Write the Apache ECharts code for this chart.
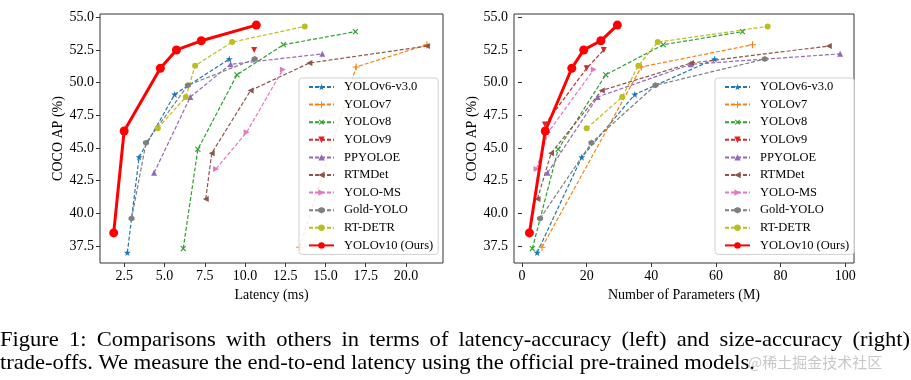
<!DOCTYPE html>
<html><head><meta charset="utf-8">
<script src="https://cdn.jsdelivr.net/npm/echarts@6/dist/echarts.min.js"></script>
<style>html,body{margin:0;padding:0;background:#fff}#c{width:911px;height:380px}</style>
</head><body><div id="c"></div>
<script>
// ---- data: [latency ms, AP] and [params M, AP] ----
const seriesNames = ['YOLOv6-v3.0','YOLOv7','YOLOv8','YOLOv9','PPYOLOE','RTMDet','YOLO-MS','Gold-YOLO','RT-DETR','YOLOv10 (Ours)'];

const yolov6Lat = [[2.69,37.0],[3.42,44.3],[5.63,49.1],[9.02,51.8]];
const yolov6Par = [[4.7,37.0],[18.5,44.3],[34.9,49.1],[59.6,51.8]];
const yolov7Lat = [[13.4,37.4],[16.9,51.2],[21.3,52.9]];
const yolov7Par = [[6.2,37.4],[36.9,51.2],[71.3,52.9]];
const yolov8Lat = [[6.16,37.3],[7.07,44.9],[9.50,50.6],[12.39,52.9],[16.86,53.9]];
const yolov8Par = [[3.2,37.3],[11.2,44.9],[25.9,50.6],[43.7,52.9],[68.2,53.9]];
const yolov9Lat = [[10.57,52.5]];
const yolov9Par = [[7.1,46.8],[20.0,51.1],[25.3,52.5]];
const ppyoloeLat = [[4.35,43.1],[6.6,48.9],[9.1,51.4],[14.8,52.2]];
const ppyoloePar = [[7.9,43.1],[23.4,48.9],[52.2,51.4],[98.4,52.2]];
const rtmdetLat = [[7.56,41.1],[7.93,44.6],[10.35,49.4],[14.0,51.5],[21.3,52.8]];
const rtmdetPar = [[4.8,41.1],[9.0,44.6],[24.7,49.4],[52.3,51.5],[94.9,52.8]];
const yolomsLat = [[8.2,43.4],[10.1,46.2],[12.35,51.0]];
const yolomsPar = [[4.5,43.4],[8.1,46.2],[22.2,51.0]];
const goldLat = [[2.95,39.6],[3.85,45.4],[6.45,49.8],[10.6,51.8]];
const goldPar = [[5.6,39.6],[21.5,45.4],[41.3,49.8],[75.1,51.8]];
const rtdetrLat = [[4.58,46.5],[6.32,48.9],[6.90,51.3],[9.20,53.1],[13.71,54.3]];
const rtdetrPar = [[20,46.5],[31,48.9],[36,51.3],[42,53.1],[76,54.3]];
const yolov10Lat = [[1.84,38.5],[2.49,46.3],[4.74,51.1],[5.74,52.5],[7.28,53.2],[10.70,54.4]];
const yolov10Par = [[2.3,38.5],[7.2,46.3],[15.4,51.1],[19.1,52.5],[24.4,53.2],[29.5,54.4]];

const latTicks = [2.5,5.0,7.5,10.0,12.5,15.0,17.5,20.0];
const parTicks = [0,20,40,60,80,100];
const apTicks = [37.5,40.0,42.5,45.0,47.5,50.0,52.5,55.0];

const captionLine1 = 'Figure 1: Comparisons with others in terms of latency-accuracy (left) and size-accuracy (right)';
const captionLine2 = 'trade-offs. We measure the end-to-end latency using the official pre-trained models.';
const watermark = '@稀土掘金技术社区';

// ---- styles ----
const SERIF = '"Liberation Serif","Times New Roman",serif';
const STAR = 'path://M0,-10 L2.35,-3.24 L9.51,-3.09 L3.8,1.23 L5.88,8.09 L0,4 L-5.88,8.09 L-3.8,1.23 L-9.51,-3.09 L-2.35,-3.24 Z';
const PLUS = 'path://M-1.6,-10 L1.6,-10 L1.6,-1.6 L10,-1.6 L10,1.6 L1.6,1.6 L1.6,10 L-1.6,10 L-1.6,1.6 L-10,1.6 L-10,-1.6 L-1.6,-1.6 Z';
const HEX = 'path://M0,-10 L8.66,-5 L8.66,5 L0,10 L-8.66,5 L-8.66,-5 Z';
const styles = [
  {c:'#1f77b4', sym:STAR, rot:0, size:7},
  {c:'#ff7f0e', sym:PLUS, rot:0, size:7},
  {c:'#2ca02c', sym:PLUS, rot:45, size:7},
  {c:'#d62728', sym:'triangle', rot:180, size:6},
  {c:'#9467bd', sym:'triangle', rot:0, size:6},
  {c:'#8c564b', sym:'triangle', rot:90, size:6},
  {c:'#e377c2', sym:'triangle', rot:-90, size:6},
  {c:'#7f7f7f', sym:HEX, rot:0, size:6},
  {c:'#bcbd22', sym:'circle', rot:0, size:6},
  {c:'#ff0000', sym:'circle', rot:0, size:9}
];
const latData = [yolov6Lat,yolov7Lat,yolov8Lat,yolov9Lat,ppyoloeLat,rtmdetLat,yolomsLat,goldLat,rtdetrLat,yolov10Lat];
const parData = [yolov6Par,yolov7Par,yolov8Par,yolov9Par,ppyoloePar,rtmdetPar,yolomsPar,goldPar,rtdetrPar,yolov10Par];

const series = [];
[latData, parData].forEach((set, gi) => {
  set.forEach((d, i) => {
    const s = styles[i];
    const ours = i === 9;
    series.push({
      name: seriesNames[i], type: 'line', xAxisIndex: gi, yAxisIndex: gi,
      data: d, symbol: s.sym, symbolRotate: s.rot, symbolSize: s.size,
      showAllSymbol: true, animation: false, z: ours ? 5 : 2,
      lineStyle: {color: s.c, width: ours ? 3 : 1.2, type: ours ? 'solid' : [4,2]},
      itemStyle: {color: s.c, borderWidth: 0},
      emphasis: {disabled: true}
    });
  });
});

function xAxis(gi, min, max, ticks, name, fmt) {
  return {
    type:'value', gridIndex: gi, min, max, name, nameLocation:'middle', nameGap: 20,
    nameTextStyle:{fontFamily:SERIF, fontSize:14, color:'#000'},
    axisLine:{show:false}, splitLine:{show:false},
    axisTick:{show:true, length:4, customValues:ticks, lineStyle:{color:'#333'}},
    axisLabel:{customValues:ticks, formatter:fmt, fontFamily:SERIF, fontSize:14, color:'#000', margin:6}
  };
}
function yAxis(gi) {
  return {
    type:'value', gridIndex: gi, min:36.2, max:55.25, name:'COCO AP (%)', nameLocation:'middle', nameGap:35,
    nameTextStyle:{fontFamily:SERIF, fontSize:14, color:'#000'},
    axisLine:{show:false}, splitLine:{show:false},
    axisTick:{show:true, length:4, customValues:apTicks, lineStyle:{color:'#333'}},
    axisLabel:{customValues:apTicks, formatter:v=>v.toFixed(1), fontFamily:SERIF, fontSize:14, color:'#000', margin:6}
  };
}
function legend(left, top) {
  return {
    data: seriesNames, orient:'vertical', left, top,
    itemWidth:25, itemHeight:8, itemGap:3.6,
    padding:[2,5,2,9],
    backgroundColor:'rgba(255,255,255,0.85)', borderColor:'#d0d0d0', borderWidth:1, borderRadius:3,
    textStyle:{fontFamily:SERIF, fontSize:12.5, color:'#000', lineHeight:14, padding:[0,0,0,5]},
    selectedMode:false
  };
}

// caption layout (justified first line, horizontally condensed serif)
const cv = document.createElement('canvas').getContext('2d');
const capFs = 22;
const capFont = capFs + 'px "Liberation Serif"';
function measure(t) { cv.font = capFont; return cv.measureText(t).width; }
const sx = 755 / measure(captionLine2);
const graphics = [];
const words = captionLine1.split(' ');
const ws = words.map(w => measure(w) * sx);
const gap = (910 - ws.reduce((a,b)=>a+b,0)) / (words.length - 1);
let cx = 0;
words.forEach((w, k) => {
  graphics.push({type:'text', x:cx, y:340, scaleX:sx, style:{text:w, font:capFont, fill:'#000', verticalAlign:'middle'}});
  cx += ws[k] + gap;
});
graphics.push({type:'text', x:0, y:363, scaleX:sx, style:{text:captionLine2, font:capFont, fill:'#000', verticalAlign:'middle'}});
graphics.push({type:'text', x:748, y:362, style:{text:watermark, font:'15px "Noto Sans CJK SC"', fill:'rgba(175,175,175,0.7)', verticalAlign:'middle'}});

const chart = echarts.init(document.getElementById('c'), null, {renderer:'canvas'});
chart.setOption({
  animation:false,
  grid:[
    {left:100, top:14, width:343, height:249, show:true, borderColor:'#333', borderWidth:1, backgroundColor:'transparent'},
    {left:514, top:14, width:340, height:249, show:true, borderColor:'#333', borderWidth:1, backgroundColor:'transparent'}
  ],
  xAxis:[
    xAxis(0, 0.99, 22.3, latTicks, 'Latency (ms)', v=>v.toFixed(1)),
    xAxis(1, -2.47, 102.7, parTicks, 'Number of Parameters (M)', v=>String(Math.round(v)))
  ],
  yAxis:[yAxis(0), yAxis(1)],
  legend:[legend(299,78), legend(715,78)],
  series,
  graphic: graphics
});
</script></body></html>
